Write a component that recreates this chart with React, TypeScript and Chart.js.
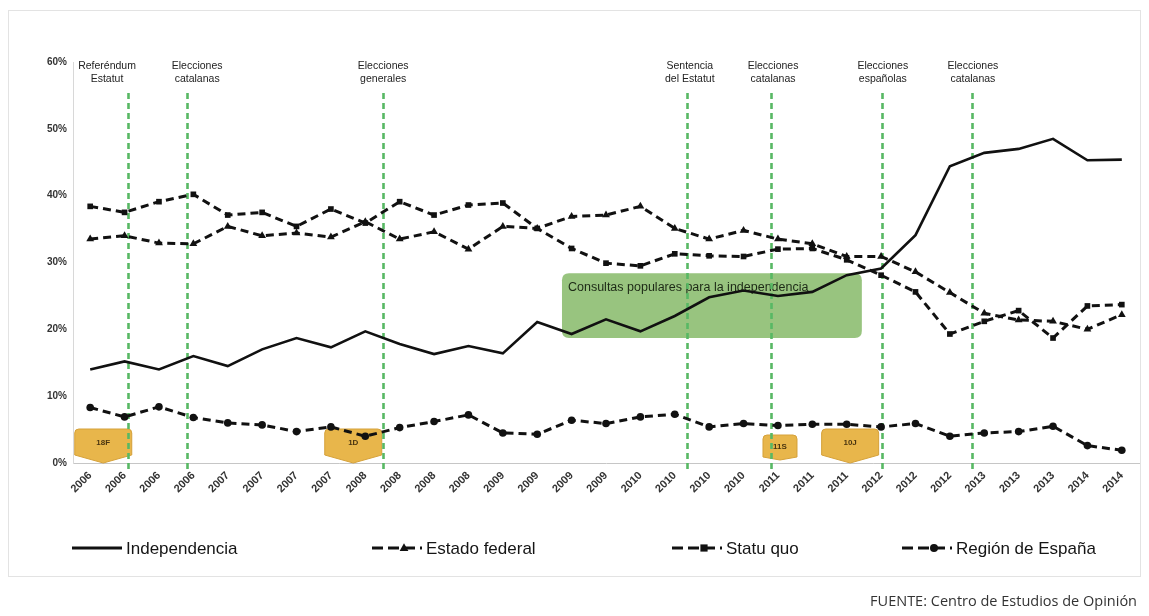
import React, { useEffect, useRef } from "react";
import { Chart, registerables } from "chart.js";

Chart.register(...registerables);

// Survey waves (Baròmetre) on the x axis
const periods = [
  "2006", "2006", "2006", "2006",
  "2007", "2007", "2007", "2007",
  "2008", "2008", "2008", "2008",
  "2009", "2009", "2009", "2009",
  "2010", "2010", "2010", "2010",
  "2011", "2011", "2011",
  "2012", "2012", "2012",
  "2013", "2013", "2013",
  "2014", "2014",
];

// Preferred relationship between Catalonia and Spain (%)
const independencia = [
  14.0, 15.2, 14.0, 16.0, 14.5, 17.0, 18.7, 17.3, 19.7, 17.8, 16.3,
  17.5, 16.4, 21.1, 19.3, 21.5, 19.7, 22.0, 24.8, 25.8, 25.0,
  25.6, 28.1, 29.1, 34.1, 44.4, 46.4, 47.0, 48.5, 45.3, 45.4,
];
const estadoFederal = [
  33.5, 34.0, 32.9, 32.8, 35.4, 34.0, 34.4, 33.8, 36.1, 33.5, 34.6,
  32.0, 35.4, 35.1, 36.9, 37.1, 38.4, 35.1, 33.5, 34.8, 33.5,
  32.8, 30.9, 30.9, 28.6, 25.5, 22.4, 21.4, 21.2, 20.0, 22.2,
];
const statuQuo = [
  38.4, 37.5, 39.1, 40.2, 37.1, 37.5, 35.4, 38.0, 35.9, 39.1, 37.1,
  38.6, 38.9, 35.1, 32.1, 29.9, 29.5, 31.3, 31.0, 30.9, 32.0,
  32.1, 30.4, 28.1, 25.6, 19.3, 21.2, 22.8, 18.7, 23.5, 23.7,
];
const regionEspana = [
  8.3, 6.9, 8.4, 6.8, 6.0, 5.7, 4.7, 5.4, 4.0, 5.3, 6.2,
  7.2, 4.5, 4.3, 6.4, 5.9, 6.9, 7.3, 5.4, 5.9, 5.6,
  5.8, 5.8, 5.4, 5.9, 4.0, 4.5, 4.7, 5.5, 2.6, 1.9,
];

const yTicks = [0, 10, 20, 30, 40, 50, 60];

// Political events, placed on the wave axis (fractional wave index)
const eventAt = [1.1, 2.82, 8.52, 17.35, 19.8, 23.02, 25.64];
const eventText = [
  ["Referéndum", "Estatut"],
  ["Elecciones", "catalanas"],
  ["Elecciones", "generales"],
  ["Sentencia", "del Estatut"],
  ["Elecciones", "catalanas"],
  ["Elecciones", "españolas"],
  ["Elecciones", "catalanas"],
];

// Mass demonstrations
const marchAt = [0.38, 7.65, 20.06, 22.1];
const marchText = ["18F", "1D", "11S", "10J"];

// Period of the popular consultations on independence
const consultaFrom = 13.72;
const consultaTo = 22.44;
const consultaTop = 28.4;
const consultaBottom = 18.7;
const consultaText = "Consultas populares para la independencia";

const legendLabels = ["Independencia", "Estado federal", "Statu quo", "Región de España"];
const sourceText = "FUENTE: Centro de Estudios de Opinión";

const FONT = "'Liberation Sans', Arial, sans-serif";

function roundedRect(ctx: CanvasRenderingContext2D, l: number, t: number, r: number, b: number, rad: number) {
  ctx.beginPath();
  ctx.moveTo(l + rad, t);
  ctx.lineTo(r - rad, t);
  ctx.quadraticCurveTo(r, t, r, t + rad);
  ctx.lineTo(r, b - rad);
  ctx.quadraticCurveTo(r, b, r - rad, b);
  ctx.lineTo(l + rad, b);
  ctx.quadraticCurveTo(l, b, l, b - rad);
  ctx.lineTo(l, t + rad);
  ctx.quadraticCurveTo(l, t, l + rad, t);
  ctx.closePath();
}

function tagPath(ctx: CanvasRenderingContext2D, cx: number, w: number, top: number, bodyBottom: number, tip: number) {
  const l = cx - w / 2;
  const r = cx + w / 2;
  const rad = 4;
  ctx.beginPath();
  ctx.moveTo(l + rad, top);
  ctx.lineTo(r - rad, top);
  ctx.quadraticCurveTo(r, top, r, top + rad);
  ctx.lineTo(r, bodyBottom);
  ctx.lineTo(cx, tip);
  ctx.lineTo(l, bodyBottom);
  ctx.lineTo(l, top + rad);
  ctx.quadraticCurveTo(l, top, l + rad, top);
  ctx.closePath();
}

function drawMarker(ctx: CanvasRenderingContext2D, kind: string, x: number, y: number, r: number) {
  ctx.beginPath();
  if (kind === "triangle") {
    ctx.moveTo(x, y - r * 1.2);
    ctx.lineTo(x + r * 1.1, y + r * 0.75);
    ctx.lineTo(x - r * 1.1, y + r * 0.75);
    ctx.closePath();
  } else if (kind === "rect") {
    ctx.rect(x - r * 0.9, y - r * 0.9, r * 1.8, r * 1.8);
  } else {
    ctx.arc(x, y, r, 0, Math.PI * 2);
  }
  ctx.fill();
}

const annotationPlugin = {
  id: "cataloniaAnnotations",
  beforeDatasetsDraw(chart: any) {
    const { ctx, chartArea, scales } = chart;
    const x = scales.x;
    const y = scales.y;
    ctx.save();

    // consultations band
    const l = x.getPixelForValue(consultaFrom);
    const r = x.getPixelForValue(consultaTo);
    const t = y.getPixelForValue(consultaTop);
    const b = y.getPixelForValue(consultaBottom);
    roundedRect(ctx, l, t, r, b, 7);
    ctx.fillStyle = "#98c47f";
    ctx.fill();
    ctx.fillStyle = "#1d2a16";
    ctx.font = `12.5px ${FONT}`;
    ctx.textAlign = "left";
    ctx.textBaseline = "middle";
    ctx.fillText(consultaText, l + 6, t + 14);

    // demonstration tags along the baseline
    marchText.forEach((txt, i) => {
      const cx = x.getPixelForValue(marchAt[i]);
      const small = txt === "11S";
      const w = small ? 34 : 57;
      const top = chartArea.bottom - (small ? 28 : 34);
      const bodyBottom = chartArea.bottom - (small ? 6 : 8);
      const tip = chartArea.bottom - (small ? 3 : 0);
      tagPath(ctx, cx, w, top, bodyBottom, tip);
      ctx.fillStyle = "#e8b64b";
      ctx.fill();
      ctx.strokeStyle = "#d5a13a";
      ctx.lineWidth = 1;
      ctx.stroke();
      ctx.fillStyle = "#4a3510";
      ctx.font = `bold 8px ${FONT}`;
      ctx.textAlign = "center";
      ctx.textBaseline = "middle";
      ctx.fillText(txt, cx, (top + bodyBottom) / 2 + 1);
    });

    // event lines
    ctx.strokeStyle = "#58b864";
    ctx.lineWidth = 2.6;
    ctx.setLineDash([6, 4]);
    eventAt.forEach((v) => {
      const px = Math.round(x.getPixelForValue(v)) + 0.5;
      ctx.beginPath();
      ctx.moveTo(px, chartArea.top + 31);
      ctx.lineTo(px, chartArea.bottom + 7);
      ctx.stroke();
    });
    ctx.restore();
  },
  afterDraw(chart: any) {
    const { ctx, chartArea, scales, width } = chart;
    const x = scales.x;
    ctx.save();

    // event captions
    const shift = [-21, 10, 0, 3, 2, 1, 1];
    ctx.fillStyle = "#222";
    ctx.font = `10.5px ${FONT}`;
    ctx.textAlign = "center";
    ctx.textBaseline = "middle";
    eventText.forEach((lines, i) => {
      const cx = x.getPixelForValue(eventAt[i]) + shift[i];
      lines.forEach((s, k) => ctx.fillText(s, cx, chartArea.top + 4 + k * 13));
    });

    // legend
    const legendY = 548;
    const legendX = [72, 372, 672, 902];
    const kinds = ["solid", "triangle", "rect", "circle"];
    legendLabels.forEach((label, i) => {
      const lx = legendX[i];
      ctx.strokeStyle = "#111";
      ctx.fillStyle = "#111";
      ctx.lineWidth = 3;
      if (kinds[i] === "solid") {
        ctx.setLineDash([]);
        ctx.beginPath();
        ctx.moveTo(lx, legendY);
        ctx.lineTo(lx + 50, legendY);
        ctx.stroke();
      } else {
        ctx.setLineDash([11, 5]);
        ctx.beginPath();
        ctx.moveTo(lx, legendY);
        ctx.lineTo(lx + 50, legendY);
        ctx.stroke();
        ctx.setLineDash([]);
        drawMarker(ctx, kinds[i], lx + 32, legendY, 4);
      }
      ctx.setLineDash([]);
      ctx.font = `17px ${FONT}`;
      ctx.textAlign = "left";
      ctx.textBaseline = "middle";
      ctx.fillStyle = "#151515";
      ctx.fillText(label, lx + 54, legendY + 1);
    });

    // frame and source
    ctx.strokeStyle = "#e3e3e3";
    ctx.lineWidth = 1;
    ctx.strokeRect(8.5, 10.5, width - 17, 566);
    ctx.fillStyle = "#333";
    ctx.font = `14.5px 'Open Sans', ${FONT}`;
    ctx.textAlign = "right";
    ctx.textBaseline = "alphabetic";
    ctx.fillText(sourceText, width - 12, 606);
    ctx.restore();
  },
};

export default function App() {
  const canvasRef = useRef<HTMLCanvasElement | null>(null);

  useEffect(() => {
    document.body.style.margin = "0";
    document.body.style.background = "#fff";
    const canvas = canvasRef.current;
    if (!canvas) return;

    const dashed = (data: number[], pointStyle: string, radius: number) => ({
      data,
      borderColor: "#111",
      backgroundColor: "#111",
      borderWidth: 3,
      borderDash: [8, 5],
      pointStyle,
      pointRadius: radius,
      pointBorderWidth: 0,
      pointBackgroundColor: "#111",
      tension: 0,
    });

    const chart = new Chart(canvas, {
      type: "line",
      data: {
        labels: periods,
        datasets: [
          {
            label: legendLabels[0],
            data: independencia,
            borderColor: "#111",
            borderWidth: 2.6,
            pointRadius: 0,
            tension: 0,
          },
          { label: legendLabels[1], ...dashed(estadoFederal, "triangle", 4.5) },
          { label: legendLabels[2], ...dashed(statuQuo, "rect", 4) },
          { label: legendLabels[3], ...dashed(regionEspana, "circle", 3.8) },
        ] as any,
      },
      options: {
        responsive: false,
        animation: false,
        events: [],
        layout: { padding: { top: 62, right: 10, left: 0, bottom: 0 } },
        plugins: {
          legend: { display: false },
          tooltip: { enabled: false },
        },
        scales: {
          x: {
            type: "category",
            offset: true,
            grid: { display: false, drawTicks: false },
            border: { display: true, color: "#c6c6c6", width: 1 },
            ticks: {
              autoSkip: false,
              minRotation: 45,
              maxRotation: 45,
              padding: 6,
              color: "#333",
              font: { family: FONT, size: 11, weight: "bold" },
            },
            afterFit: (s: any) => {
              s.height = 153;
              s.paddingLeft = 0;
              s.paddingRight = 0;
            },
          },
          y: {
            min: 0,
            max: 60,
            grid: { display: false, drawTicks: false },
            border: { display: true, color: "#d8d8d8", width: 1 },
            afterBuildTicks: (s: any) => {
              s.ticks = yTicks.map((v) => ({ value: v }));
            },
            ticks: {
              padding: 6,
              color: "#333",
              font: { family: FONT, size: 10, weight: "bold" },
              callback: (v: any) => `${v}%`,
            },
            afterFit: (s: any) => {
              s.width = 73;
            },
          },
        },
      } as any,
      plugins: [annotationPlugin],
    });

    return () => chart.destroy();
  }, []);

  return (
    <div style={{ width: 1149, height: 616, background: "#fff" }}>
      <canvas ref={canvasRef} width={1149} height={616} style={{ display: "block" }} />
    </div>
  );
}
